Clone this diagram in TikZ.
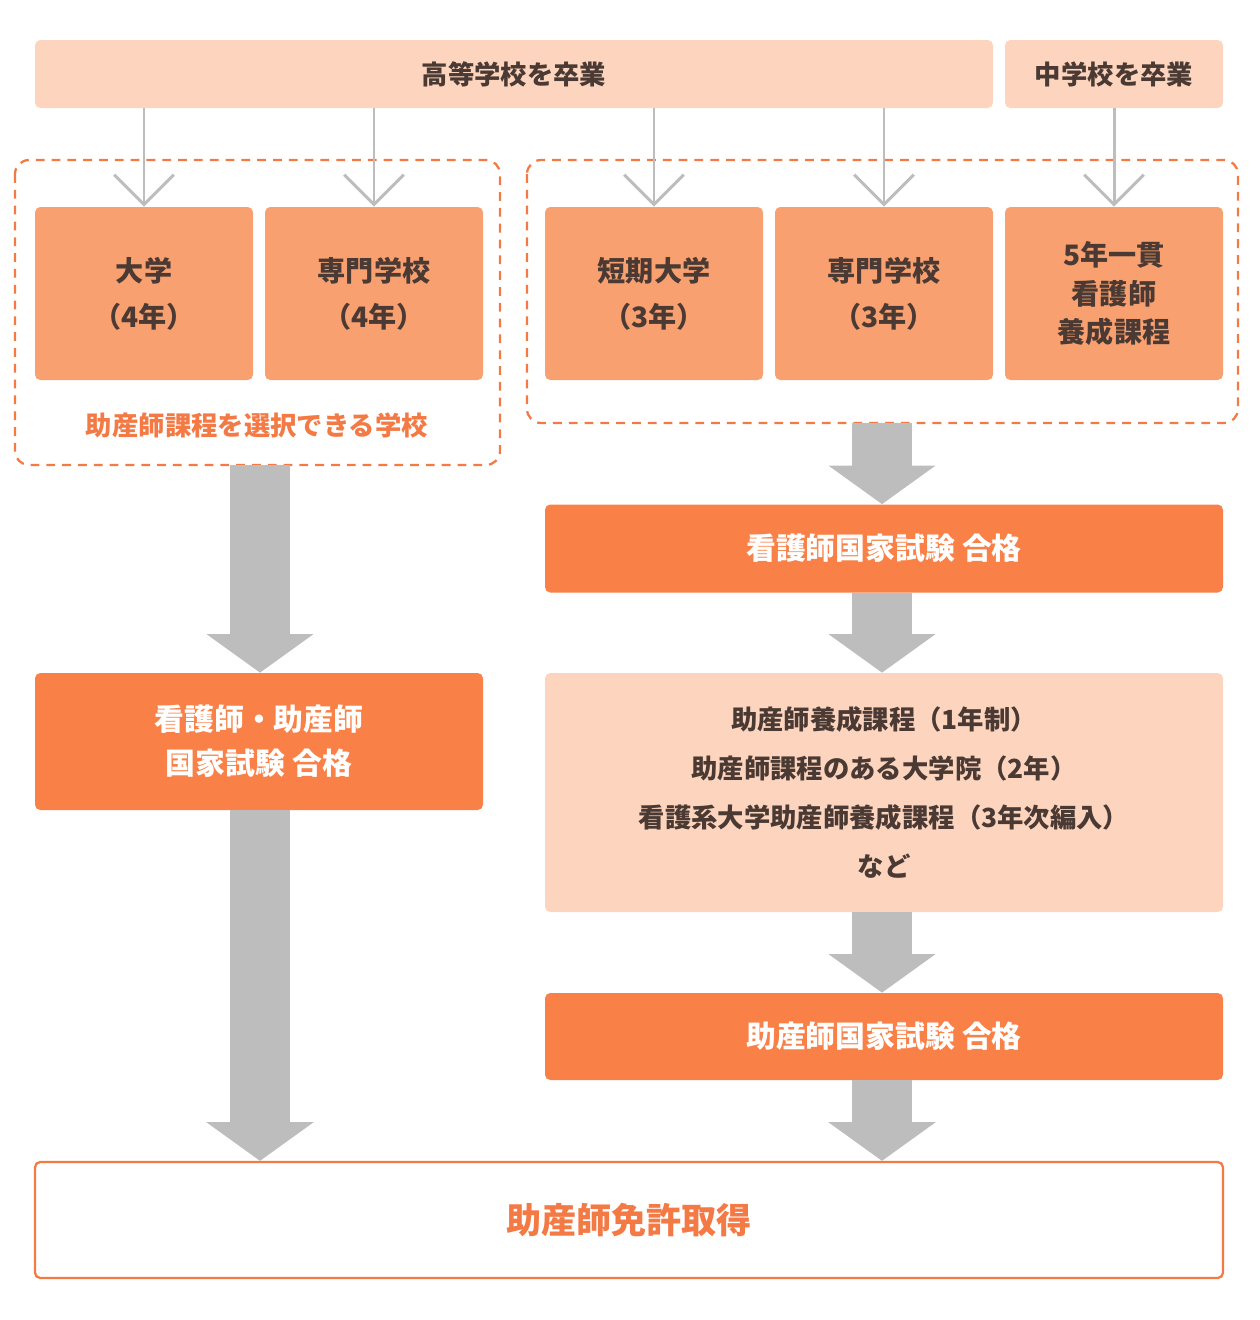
\documentclass[tikz,border=0pt]{standalone}
\usepackage{fontspec}
\setmainfont{Noto Sans CJK JP}
\usetikzlibrary{arrows.meta}
\definecolor{peach}{HTML}{FDD5BF}
\definecolor{mid}{HTML}{F9A070}
\definecolor{org}{HTML}{F98046}
\definecolor{dash}{HTML}{F47A45}
\definecolor{txt}{HTML}{4A3A33}
\definecolor{gr}{HTML}{BDBDBD}
\begin{document}
\begin{tikzpicture}[x=0.02cm,y=-0.02cm,
 bx/.style={rounded corners=3pt,inner sep=0pt},
 box/.style={bx,fill=mid,text=txt,font=\fontsize{16}{26}\selectfont\bfseries,align=center},
 obox/.style={bx,fill=org,text=white,font=\fontsize{17}{25}\selectfont\bfseries,align=center},
 thin/.style={draw=gr,line width=1.7pt,-{Straight Barb[width=34pt,length=17pt,line width=1.7pt]}},
 thick/.style={draw=gr,line width=34pt,-{Triangle[width=60pt,length=22pt]},shorten <=0pt},
 dbox/.style={draw=dash,dashed,line width=1.3pt,dash pattern=on 5pt off 4pt,rounded corners=8pt}]
\useasboundingbox (0,0) rectangle (1260,1320);
\node[bx,fill=peach,text=txt,font=\fontsize{15}{18}\selectfont\bfseries,minimum width=958*0.02cm,minimum height=68*0.02cm] (hs) at (514,74) {高等学校を卒業};
\node[bx,fill=peach,text=txt,font=\fontsize{15}{18}\selectfont\bfseries,minimum width=218*0.02cm,minimum height=68*0.02cm] (js) at (1114,74) {中学校を卒業};
\draw[dbox] (15,160) rectangle (500,465);
\draw[dbox] (527,160) rectangle (1238,423);
\coordinate (dl) at (260,465);
\coordinate (dr) at (882,423);
\foreach \n/\x/\t in {a/144/{大学\\（4年）},b/374/{専門学校\\（4年）},c/654/{短期大学\\（3年）},d/884/{専門学校\\（3年）}}
 \node[box,minimum width=218*0.02cm,minimum height=173*0.02cm] (\n) at (\x,293.5) {\t};
\node[box,minimum width=218*0.02cm,minimum height=173*0.02cm,font=\fontsize{16}{22}\selectfont\bfseries] (e) at (1114,293.5) {5年一貫\\看護師\\養成課程};
\node[text=dash,font=\fontsize{15}{18}\selectfont\bfseries] (lab) at (257,425) {助産師課程を選択できる学校};
\draw[thin] (hs.south-|a) -- (a.north);
\draw[thin] (hs.south-|b) -- (b.north);
\draw[thin] (hs.south-|c) -- (c.north);
\draw[thin] (hs.south-|d) -- (d.north);
\draw[thin] (js.south) -- (e.north);
\node[obox,minimum width=678*0.02cm,minimum height=88*0.02cm] (n1) at (884,548.5) {看護師国家試験 合格};
\node[obox,minimum width=448*0.02cm,minimum height=137*0.02cm] (n2) at (259,741.5) {看護師・助産師\\国家試験 合格};
\node[bx,fill=peach,text=txt,font=\fontsize{15}{28}\selectfont\bfseries,align=center,minimum width=678*0.02cm,minimum height=239*0.02cm] (m) at (884,792.5) {助産師養成課程（1年制）\\助産師課程のある大学院（2年）\\看護系大学助産師養成課程（3年次編入）\\など};
\node[obox,minimum width=678*0.02cm,minimum height=87*0.02cm] (n3) at (884,1036.5) {助産師国家試験 合格};
\node[bx,draw=dash,line width=1.3pt,fill=white,text=dash,font=\fontsize{20}{24}\selectfont\bfseries,minimum width=1188*0.02cm,minimum height=116*0.02cm] (f) at (629,1220) {助産師免許取得};
\draw[thick] (dl) -- (n2.north-|dl);
\draw[thick] (dr) -- (n1.north-|dr);
\draw[thick] (n1.south-|dr) -- (m.north-|dr);
\draw[thick] (m.south-|dr) -- (n3.north-|dr);
\draw[thick] (n3.south-|dr) -- (f.north-|dr);
\draw[thick] (n2.south-|dl) -- (f.north-|dl);
\end{tikzpicture}
\end{document}
